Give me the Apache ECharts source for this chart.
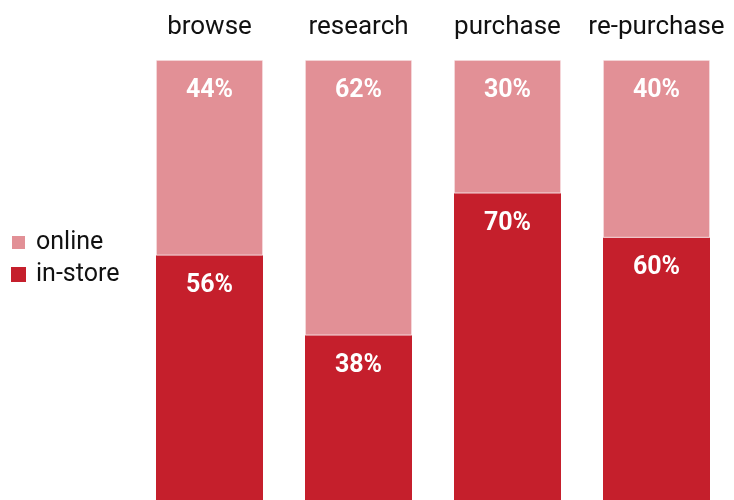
<!DOCTYPE html>
<html>
<head>
<meta charset="utf-8">
<script src="https://cdn.jsdelivr.net/npm/echarts@6/dist/echarts.min.js"></script>
<style>
  html, body { margin: 0; padding: 0; background: #fff; }
  #chart { width: 734px; height: 500px; }
</style>
</head>
<body>
<div id="chart"></div>
<script>
const stages = ['browse', 'research', 'purchase', 're-purchase'];
const inStore = [56, 38, 70, 60];
const online = [44, 62, 30, 40];

const darkRed = '#C51F2C';
const lightRed = '#E29096';
const fontFamily = 'Roboto, "Liberation Sans Narrow", sans-serif';

var dom = document.getElementById('chart');
var myChart = echarts.init(dom, null, { renderer: 'canvas' });

const pctLabel = {
  show: true,
  position: 'insideTop',
  distance: 18,
  color: '#fff',
  fontFamily: fontFamily,
  fontWeight: 'bold',
  fontSize: 25,
  formatter: '{c}%'
};

var option = {
  animation: false,
  backgroundColor: '#fff',
  legend: {
    data: ['online', 'in-store'],
    orient: 'vertical',
    left: 5,
    top: 225,
    itemWidth: 15,
    itemHeight: 15,
    itemGap: 7,
    icon: 'rect',
    textStyle: { fontFamily: fontFamily, fontSize: 25, color: '#111', padding: [0, 0, 0, 5] }
  },
  // bars run a few pixels past the bottom edge
  grid: { left: 135, right: 3, top: 60, bottom: -4, outerBoundsMode: 'none', containLabel: false },
  xAxis: {
    type: 'category',
    position: 'top',
    data: stages,
    axisLine: { show: false },
    axisTick: { show: false },
    axisLabel: {
      interval: 0,
      margin: 20,
      fontFamily: fontFamily,
      fontSize: 26,
      color: '#111'
    }
  },
  yAxis: {
    type: 'value',
    min: 0,
    max: 100,
    show: false
  },
  series: [
    {
      name: 'in-store',
      type: 'bar',
      stack: 'total',
      barWidth: 107,
      data: inStore,
      itemStyle: { color: darkRed },
      label: pctLabel
    },
    {
      name: 'online',
      type: 'bar',
      stack: 'total',
      barWidth: 107,
      data: online,
      itemStyle: { color: lightRed, borderColor: '#fff', borderWidth: 0.6 },
      label: pctLabel
    }
  ]
};

myChart.setOption(option);
window.addEventListener('resize', myChart.resize);
</script>
</body>
</html>
